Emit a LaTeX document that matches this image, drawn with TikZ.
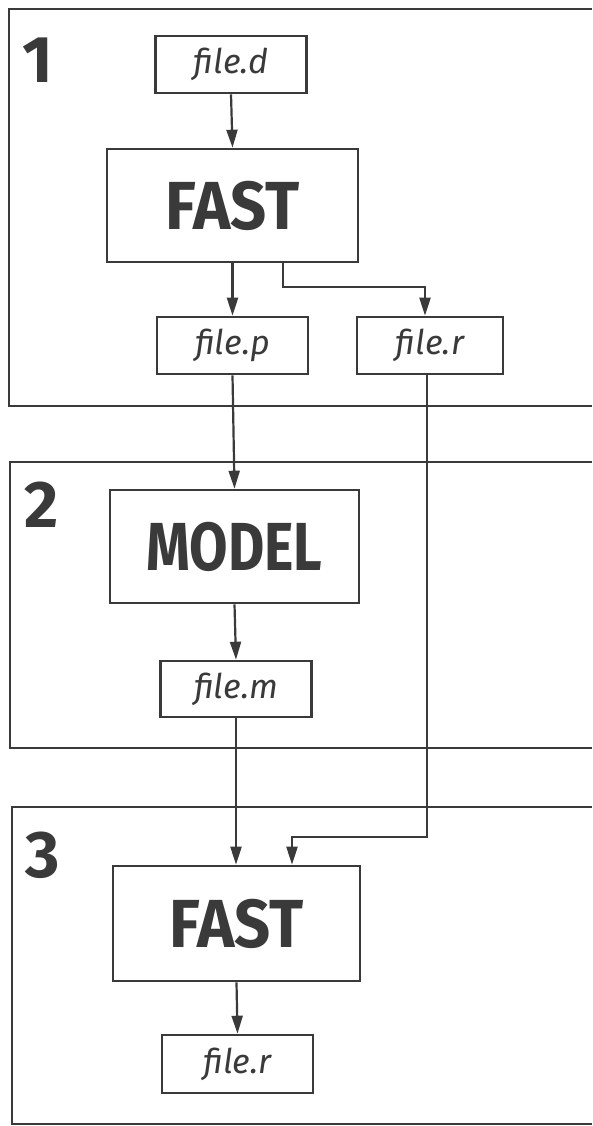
\documentclass[tikz,border=0pt]{standalone}
\usepackage{fontspec}
\setmainfont{Fira Sans}
\usetikzlibrary{arrows.meta,calc}
\definecolor{ink}{HTML}{3A3A3A}
\tikzset{
  box/.style={draw=ink, line width=2.6pt, inner sep=0pt, anchor=center, text=ink},
  bigbox/.style={box, minimum width=249pt, minimum height=113pt,
     font=\fontsize{68}{68}\selectfont\bfseries},
  filebox/.style={box, minimum width=151pt, minimum height=57pt,
     font=\fontsize{34}{34}\selectfont\itshape},
  stage/.style={draw=ink, line width=2.6pt},
  num/.style={text=ink, font=\fontsize{66}{66}\selectfont\bfseries, inner sep=0pt},
  arr/.style={draw=ink, line width=2.2pt, -{Triangle[length=18pt,width=11pt]}},
}
\begin{document}
\begin{tikzpicture}[x=1pt,y=-1pt]
\useasboundingbox (0,0) rectangle (592,1126);
% stage frames (open to the right)
\draw[stage] (592,9) -- (9,9) -- (9,406) -- (592,406);
\draw[stage] (592,462) -- (10,462) -- (10,748) -- (592,748);
\draw[stage] (592,807) -- (12,807) -- (12,1124) -- (592,1124);
% stage numbers
\node[num] (n1) at (38,60) {1};
\node[num] (n2) at (42,505) {2};
\node[num] (n3) at (43,855) {3};
% nodes
\node[filebox] (fd) at (231,64.5) {file.d};
\node[bigbox, minimum width=251pt] (f1) at (232.5,205.5) {\scalebox{0.93}[1]{FAST}};
\node[filebox] (fp) at (232.5,345.5) {file.p};
\node[filebox, minimum width=146pt] (fr) at (430,345.5) {file.r};
\node[bigbox] (mo) at (234.5,546.5) {\scalebox{0.82}[1]{MODEL}};
\node[filebox, minimum height=56pt] (fm) at (236,689) {file.m};
\node[bigbox, minimum width=247pt, minimum height=115pt] (f2) at (236.5,923.5) {\scalebox{0.93}[1]{FAST}};
\node[filebox, minimum height=58pt] (fr2) at (237.5,1064) {file.r};
% connectors
\draw[arr] (fd.south) -- (f1.north);
\draw[arr] (f1.south) -- (fp.north);
\coordinate (b1) at ($(f1.south)+(50.5,0)$);
\coordinate (b2) at ($(fr.north)+(-5,0)$);
\draw[arr] (b1) |- ($(b2)+(0,-29)$) -- (b2);
\draw[arr] (fp.south) -- (mo.north);
\draw[arr] (mo.south) -- (fm.south |- fm.north);
\draw[arr] (fm.south) -- (fm.south |- f2.north);
\coordinate (c1) at ($(fr.south)+(-3,0)$);
\coordinate (c2) at ($(f2.north)+(55.5,0)$);
\draw[arr] (c1) |- ($(c2)+(0,-28)$) -- (c2);
\draw[arr] (f2.south) -- (fr2.north);
\end{tikzpicture}
\end{document}
